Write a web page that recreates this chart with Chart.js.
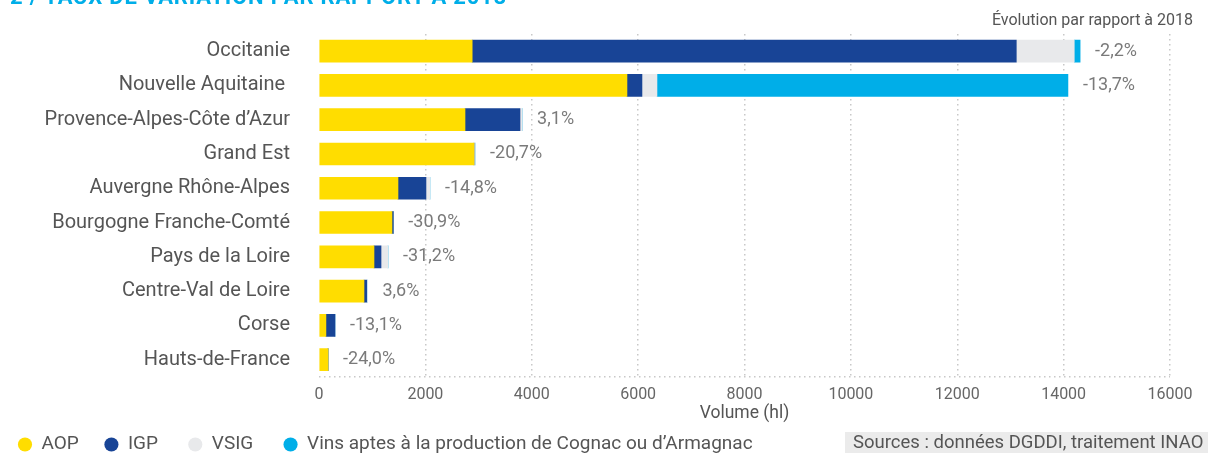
<!DOCTYPE html>
<html>
<head>
<meta charset="utf-8">
<script src="https://cdn.jsdelivr.net/npm/chart.js@4"></script>
<style>
  html, body { margin: 0; padding: 0; background: #fff; }
  #wrap { position: relative; width: 1208px; height: 453px; overflow: hidden; }
  #topTitle {
    position: absolute; left: 10px; top: -16px;
    font: bold 22px Roboto, sans-serif; color: #00aee8; letter-spacing: 0.8px;
  }
  #evolTitle {
    position: absolute; right: 15px; top: 10px;
    font: 16px Roboto, sans-serif; color: #555; line-height: 20px; white-space: nowrap;
  }
  #sources {
    position: absolute; left: 845px; top: 432px; width: 363px; height: 21px;
    background: #ebebeb; color: #555; font: 18.5px Roboto, sans-serif;
    line-height: 21px; padding-left: 8px; box-sizing: border-box; white-space: nowrap;
  }
</style>
</head>
<body>
<div id="wrap">
  <canvas id="chart" width="1208" height="453"></canvas>
  <div id="topTitle">2 / TAUX DE VARIATION PAR RAPPORT À 2018</div>
  <div id="evolTitle">Évolution par rapport à 2018</div>
  <div id="sources">Sources : données DGDDI, traitement INAO</div>
</div>
<script>
// régions
const regions = [
  'Occitanie', 'Nouvelle Aquitaine ', 'Provence-Alpes-Côte d\u2019Azur', 'Grand Est',
  'Auvergne Rhône-Alpes', 'Bourgogne Franche-Comté', 'Pays de la Loire',
  'Centre-Val de Loire', 'Corse', 'Hauts-de-France'
];
// volumes (hl)
const aop    = [2880, 5790, 2745, 2914, 1485, 1372, 1034, 846, 130, 170];
const igp    = [10230, 282, 1034, 0, 526, 25, 132, 50, 170, 0];
const vsig   = [1090, 282, 40, 20, 75, 0, 132, 15, 0, 0];
const cognac = [110, 7727, 0, 0, 0, 0, 0, 0, 0, 0];
// évolution par rapport à 2018
const evolution = ['-2,2%', '-13,7%', '3,1%', '-20,7%', '-14,8%', '-30,9%', '-31,2%', '3,6%', '-13,1%', '-24,0%'];
const xTicks = [0, 2000, 4000, 6000, 8000, 10000, 12000, 14000, 16000];

const FONT = 'Roboto, sans-serif';

// étiquettes de variation à droite des barres + ligne de base pointillée
const evolLabels = {
  id: 'evolLabels',
  beforeDatasetsDraw(chart) {
    const { ctx, chartArea } = chart;
    ctx.save();
    ctx.strokeStyle = '#c8c8c8';
    ctx.lineWidth = 1.5;
    ctx.setLineDash([1.5, 3.5]);
    ctx.beginPath();
    ctx.moveTo(chartArea.left, chartArea.bottom);
    ctx.lineTo(chartArea.right, chartArea.bottom);
    ctx.stroke();
    ctx.restore();
  },
  afterDatasetsDraw(chart) {
    const { ctx, scales } = chart;
    ctx.save();
    ctx.font = '18px ' + FONT;
    ctx.fillStyle = '#7a7a7a';
    ctx.textAlign = 'left';
    ctx.textBaseline = 'middle';
    regions.forEach((r, i) => {
      const total = aop[i] + igp[i] + vsig[i] + cognac[i];
      const x = scales.x.getPixelForValue(total) + 15;
      const y = scales.y.getPixelForValue(i);
      ctx.fillText(evolution[i], x, y);
    });
    ctx.restore();
  }
};

// espacement entre les entrées de légende
const legendGaps = ['     ', '      ', '      ', ''];

new Chart(document.getElementById('chart'), {
  type: 'bar',
  data: {
    labels: regions,
    datasets: [
      { label: 'AOP', data: aop, backgroundColor: '#ffdd00' },
      { label: 'IGP', data: igp, backgroundColor: '#184496' },
      { label: 'VSIG', data: vsig, backgroundColor: '#e8e9eb' },
      { label: 'Vins aptes à la production de Cognac ou d\u2019Armagnac', data: cognac, backgroundColor: '#00aee8' }
    ]
  },
  options: {
    indexAxis: 'y',
    responsive: false,
    animation: false,
    barThickness: 22,
    layout: { padding: { left: 16, right: 38, top: 34, bottom: -11 } },
    scales: {
      x: {
        stacked: true,
        min: 0, max: 16000,
        afterBuildTicks: (scale) => { scale.ticks = xTicks.map(v => ({ value: v })); },
        grid: {
          color: (c) => c.index === 0 ? 'rgba(0,0,0,0)' : '#c8c8c8',
          lineWidth: 1.5,
          drawTicks: false
        },
        border: { display: false, dash: [1.5, 3.5] },
        ticks: {
          color: '#666', font: { family: FONT, size: 16 }, padding: 9, maxRotation: 0,
          callback: (v) => String(v)
        },
        title: { display: true, text: 'Volume (hl)', color: '#555', font: { family: FONT, size: 17.5 }, padding: { top: -11, bottom: 9 } }
      },
      y: {
        stacked: true,
        grid: { display: false },
        border: { display: false },
        ticks: { color: '#555', font: { family: FONT, size: 20 }, padding: 21 },
        afterFit: (scale) => { scale.width = 303; }
      }
    },
    plugins: {
      tooltip: { enabled: false },
      title: { display: false },
      legend: {
        position: 'bottom',
        align: 'start',
        labels: {
          usePointStyle: true,
          pointStyle: 'circle',
          boxWidth: 14,
          boxHeight: 10,
          padding: 2,
          color: '#555',
          font: { family: FONT, size: 19 },
          generateLabels: (chart) => Chart.defaults.plugins.legend.labels.generateLabels(chart)
            .map((item, i) => Object.assign(item, { text: item.text + legendGaps[i] }))
        }
      }
    }
  },
  plugins: [evolLabels]
});
</script>
</body>
</html>
